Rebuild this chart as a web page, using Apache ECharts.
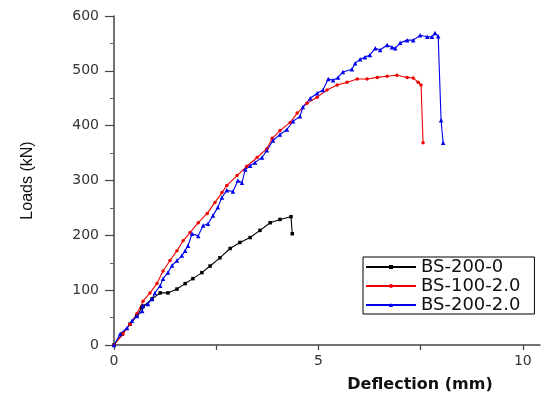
<!DOCTYPE html>
<html>
<head>
<meta charset="utf-8">
<script src="https://cdn.jsdelivr.net/npm/echarts@6/dist/echarts.min.js"></script>
<style>html,body{margin:0;padding:0;background:#fff;}#c{width:542px;height:399px;}</style>
</head>
<body>
<div id="c"></div>
<script>
// Data: [deflection (mm), load (kN)]
var seriesNames = ['BS-200-0', 'BS-100-2.0', 'BS-200-2.0'];
var xTickLabels = [0, 5, 10];
var xTickValues = [0, 2.5, 5, 7.5, 10];
var yTickLabels = [0, 100, 200, 300, 400, 500, 600];

var bs200_0 = [
  [0, 0], [0.2, 20], [0.39, 38], [0.56, 53], [0.68, 68], [0.71, 71], [0.93, 84], [1.13, 95], [1.32, 95],
  [1.54, 102], [1.74, 112], [1.93, 121], [2.15, 132], [2.35, 144], [2.59, 159],
  [2.84, 176], [3.08, 187], [3.33, 196], [3.57, 209], [3.82, 223], [4.06, 229],
  [4.33, 234], [4.36, 203]
];
var bs100_20 = [
  [0, 0], [0.22, 20], [0.39, 38], [0.56, 57], [0.71, 80], [0.88, 95], [1.05, 112],
  [1.2, 135], [1.37, 154], [1.54, 172], [1.69, 190], [1.86, 205], [2.06, 223],
  [2.28, 240], [2.47, 260], [2.64, 278], [2.76, 291], [3.01, 309], [3.25, 326],
  [3.5, 342], [3.74, 358], [3.87, 377], [4.06, 391], [4.31, 406], [4.48, 423],
  [4.72, 441], [4.97, 452], [5.21, 465], [5.46, 474], [5.7, 479], [5.95, 485],
  [6.19, 485], [6.44, 488], [6.68, 490], [6.92, 492], [7.17, 488], [7.32, 487],
  [7.44, 479], [7.51, 474], [7.56, 369]
];
var bs200_20 = [
  [0, 0], [0.15, 20], [0.32, 31], [0.44, 44], [0.56, 53], [0.69, 62], [0.71, 71],
  [0.83, 75], [0.93, 84], [1.0, 95], [1.13, 108], [1.2, 121], [1.32, 132],
  [1.42, 145], [1.54, 154], [1.66, 163], [1.74, 172], [1.81, 181], [1.91, 203],
  [2.06, 199], [2.18, 218], [2.3, 221], [2.42, 236], [2.54, 251], [2.64, 269],
  [2.76, 282], [2.91, 280], [3.03, 300], [3.13, 296], [3.21, 320], [3.33, 327],
  [3.45, 333], [3.62, 342], [3.74, 355], [3.89, 373], [4.06, 384], [4.23, 393],
  [4.38, 408], [4.55, 417], [4.62, 434], [4.8, 450], [4.97, 459], [5.11, 465],
  [5.24, 485], [5.36, 483], [5.48, 488], [5.6, 498], [5.82, 503], [5.9, 514],
  [6.02, 521], [6.14, 525], [6.26, 529], [6.39, 541], [6.51, 538], [6.68, 547],
  [6.8, 543], [6.88, 541], [7.0, 551], [7.17, 556], [7.32, 556], [7.49, 565],
  [7.66, 562], [7.78, 562], [7.85, 569], [7.93, 563], [8.0, 410], [8.05, 369]
];

var chart = echarts.init(document.getElementById('c'), null, {renderer: 'canvas'});
var tickFont = {fontFamily: 'DejaVu Sans', fontSize: 14, color: '#333'};
chart.setOption({
  backgroundColor: '#fff',
  animation: false,
  grid: {left: 114, top: 16, right: 2, bottom: 54, containLabel: false},
  xAxis: {
    type: 'value', min: 0, max: 10.42,
    name: 'Deflection (mm)', nameLocation: 'middle', nameGap: 32,
    nameTextStyle: {fontFamily: 'DejaVu Sans', fontWeight: 'bold', fontSize: 16, color: '#111', padding: [0, 0, 0, 186]},
    axisLine: {lineStyle: {color: '#444', width: 1.5}},
    axisTick: {show: true, inside: false, length: 5, customValues: xTickValues, lineStyle: {color: '#444', width: 1.2}},
    axisLabel: Object.assign({margin: 9, customValues: xTickLabels}, tickFont),
    splitLine: {show: false}
  },
  yAxis: {
    type: 'value', min: 0, max: 600, interval: 100,
    name: 'Loads (kN)', nameLocation: 'middle', nameGap: 78, nameRotate: 90,
    nameTextStyle: {fontFamily: 'Liberation Sans', fontSize: 16, color: '#111'},
    axisLine: {show: true, lineStyle: {color: '#444', width: 1.5}},
    axisTick: {show: true, inside: false, length: 9, lineStyle: {color: '#444', width: 1.2}},
    minorTick: {show: true, splitNumber: 2, length: 4, lineStyle: {color: '#666', width: 1}},
    axisLabel: Object.assign({margin: 15}, tickFont),
    splitLine: {show: false}
  },
  legend: {
    orient: 'vertical', left: 363, top: 257,
    data: seriesNames,
    borderColor: '#000', borderWidth: 1, borderRadius: 0,
    padding: [1, 14, 0, 2], itemGap: 1, itemWidth: 50, itemHeight: 5,
    textStyle: {fontFamily: 'DejaVu Sans', fontSize: 18, color: '#111'}
  },
  series: [
    {name: seriesNames[0], type: 'line', data: bs200_0, symbol: 'rect', symbolSize: 3.5,
     itemStyle: {color: '#000'}, lineStyle: {color: '#000', width: 1.1}},
    {name: seriesNames[1], type: 'line', data: bs100_20, symbol: 'circle', symbolSize: 3.5,
     itemStyle: {color: '#ee0000'}, lineStyle: {color: '#ee0000', width: 1.1}},
    {name: seriesNames[2], type: 'line', data: bs200_20, symbol: 'triangle', symbolSize: 4.5,
     itemStyle: {color: '#0000ee'}, lineStyle: {color: '#0000ee', width: 1.1}}
  ]
});
</script>
</body>
</html>
